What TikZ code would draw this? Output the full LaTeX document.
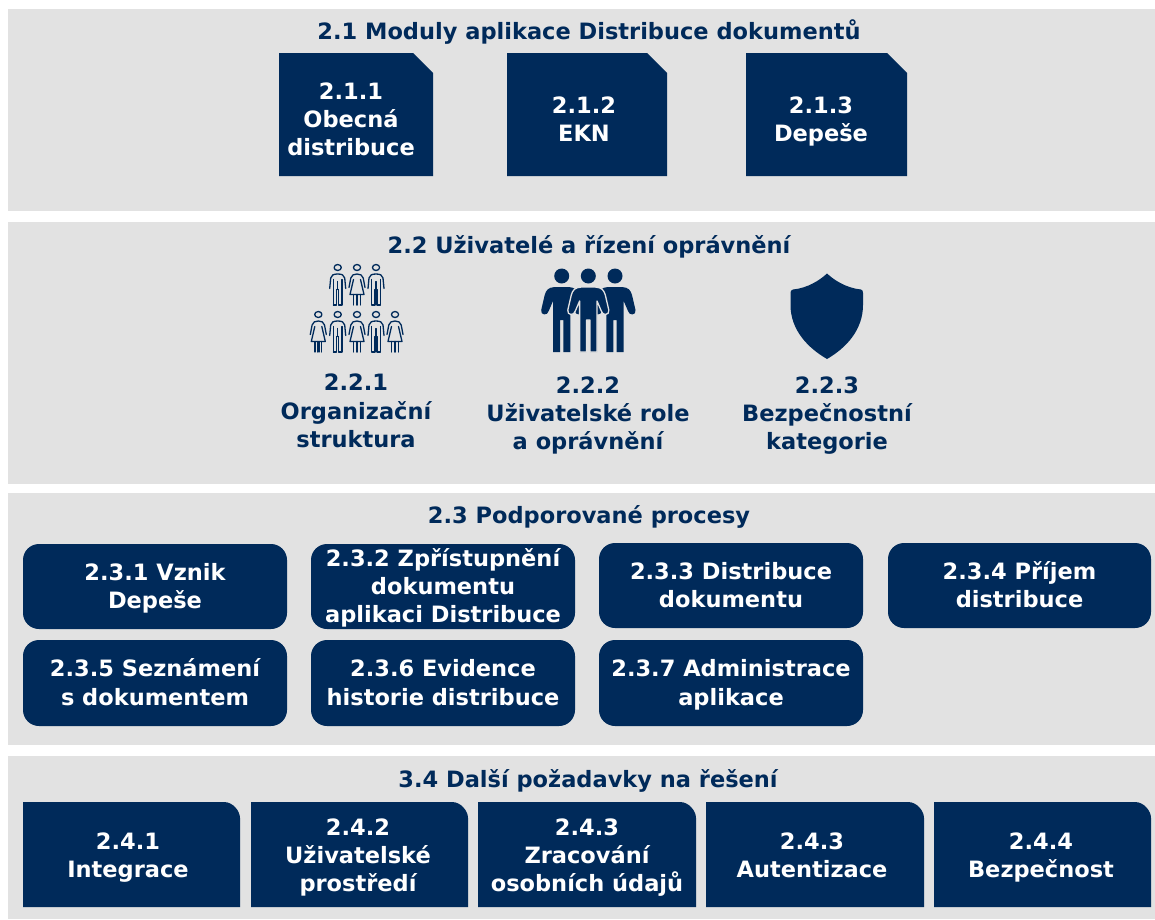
\documentclass[tikz,border=0pt]{standalone}
\usepackage{fontspec}
\setmainfont{DejaVu Sans}
\definecolor{navy}{HTML}{002A5A}
\definecolor{panel}{HTML}{E2E2E2}
\newcommand{\lbl}{\fontsize{22.5}{27.2}\selectfont\bfseries}
\newcommand{\st}{\vrule width 0pt height 21.6pt depth 5.6pt\relax}
\tikzset{
  x=1pt,y=-1pt,
  panelbox/.style={fill=panel,draw=none,anchor=north west,inner sep=0pt,outer sep=0pt},
  heading/.style={text=navy,font=\lbl,inner sep=0pt,align=center},
  whitetext/.style={text=white,font=\lbl,inner sep=0pt,align=center},
  bluetext/.style={text=navy,font=\lbl,inner sep=0pt,align=center},
  procbox/.style={fill=navy,rounded corners=16pt,anchor=north west,inner sep=0pt,outer sep=0pt,text=white,font=\lbl,align=center,minimum width=264pt},
  iconline/.style={draw=navy,line width=1.3pt,fill=none,line cap=round,line join=round},
}
\newcommand{\panelat}[5]{\node[panelbox,minimum width=#4pt,minimum height=#5pt] (#1) at (#2,#3) {};}
% snipped box: name x0 y0 x1 y1 textx text
\newcommand{\snipbox}[7]{%
  \fill[navy] (#2,#3) -- ({#4-20},#3) -- (#4,{#3+20}) -- (#4,#5) -- (#2,#5) -- cycle;
  \node[whitetext] (#1) at (#6,119.5) {#7};}
% box with round top right corner: name x0 x1 textx text
\newcommand{\tabbox}[5]{%
  \fill[navy] (#2,802) -- ({#3-16},802) .. controls ({#3-7},802) and (#3,811) .. (#3,818) -- (#3,907) -- (#2,907) -- cycle;
  \node[whitetext] (#1) at (#4,855.5) {#5};}
% solid person; #3 = outline style
\newcommand{\solidperson}[3]{%
  \begin{scope}[shift={(#1,#2)}]
    \fill[navy,#3,line join=round]
      (-7,11) .. controls (-13.5,11.5) and (-15.5,14) .. (-17,19)
      -- (-20.5,34) .. controls (-21.5,39.5) and (-14,40) .. (-13,35)
      -- (-8.7,25) -- (-8.7,76) -- (-1.7,76) -- (-1.7,44) -- (1.7,44) -- (1.7,76) -- (8.7,76) -- (8.7,25)
      -- (13,35) .. controls (14,40) and (21.5,39.5) .. (20.5,34)
      -- (17,19) .. controls (15.5,14) and (13.5,11.5) .. (7,11) -- cycle;
    \fill[navy] (0,0) circle[radius=7.5];
  \end{scope}}
% outline man, origin = head centre
\newcommand{\outman}[2]{%
  \begin{scope}[shift={(#1,#2)}]
    \draw[iconline] (0,0) ellipse[x radius=3.6,y radius=3];
    \draw[iconline] (-8,21) -- (-7,10.5) .. controls (-6.5,7.5) and (-4,6.5) .. (0,6.5) .. controls (4,6.5) and (6.5,7.5) .. (7,10.5) -- (8,21);
    \draw[iconline] (-4.3,12) -- (-4.3,37.5) (-0.9,22) -- (-0.9,37.5) -- (-4.3,37.5) (4.3,12) -- (4.3,37.5) -- (0.9,37.5) -- (0.9,22) (0,22) -- (0,14);
  \end{scope}}
% outline woman
\newcommand{\outwoman}[2]{%
  \begin{scope}[shift={(#1,#2)}]
    \draw[iconline] (0,0) ellipse[x radius=3.6,y radius=3];
    \draw[iconline] (-8,20) -- (-6.2,10.5) .. controls (-5.5,7.5) and (-3,6.5) .. (0,6.5) .. controls (3,6.5) and (5.5,7.5) .. (6.2,10.5) -- (8,20);
    \draw[iconline] (-3.5,12) -- (-7,27) -- (7,27) -- (3.5,12);
    \draw[iconline] (-3.4,27) -- (-3.4,37.5) (-0.7,27) -- (-0.7,37.5) (0.7,27) -- (0.7,37.5) (3.4,27) -- (3.4,37.5);
  \end{scope}}
\begin{document}
\begin{tikzpicture}
\useasboundingbox (0,0) rectangle (1155,919);
\fill[white] (0,0) rectangle (1155,919);
\panelat{p1}{8}{9}{1147}{202}
\panelat{p2}{8}{222}{1147}{262}
\panelat{p3}{8}{493}{1147}{252}
\panelat{p4}{8}{756}{1147}{163}

\node[heading] (t1) at (589,31) {\st 2.1 Moduly aplikace Distribuce dokumentů};
\node[heading] (t2) at (589,245) {\st 2.2 Uživatelé a řízení oprávnění};
\node[heading] (t3) at (589,515) {\st 2.3 Podporované procesy};
\node[heading] (t4) at (588,779) {\st 3.4 Další požadavky na řešení};

\snipbox{m1}{279}{53}{433}{176}{351}{\st 2.1.1\\\st Obecná\\\st distribuce}
\snipbox{m2}{507}{53}{667}{176}{584}{\st 2.1.2\\\st EKN}
\snipbox{m3}{746}{53}{907}{176}{821}{\st 2.1.3\\\st Depeše}

% icons
\foreach \px/\py in {337.7/267.5,376/267.5,337.7/314.5,376/314.5}{\outman{\px}{\py}}
\foreach \px/\py in {357/267.5,318.3/314.5,357/314.5,395/314.5}{\outwoman{\px}{\py}}
\solidperson{561.7}{276}{draw=none}
\solidperson{615}{276}{draw=none}
\solidperson{588.3}{276}{draw=panel,line width=1.3pt}
\fill[navy] (827,273.5) .. controls (820,280) and (808,288) .. (793,289.5)
  .. controls (791,290) and (790.5,291) .. (790.5,293)
  -- (790.5,305) .. controls (790.5,330) and (808,348) .. (827,359)
  .. controls (846,348) and (863,330) .. (863,305)
  -- (863,293) .. controls (863,291) and (862.5,290) .. (861,289.5)
  .. controls (846,288) and (834,280) .. (827,273.5) -- cycle;

\node[bluetext] (u1) at (356,411) {\st 2.2.1\\\st Organizační\\\st struktura};
\node[bluetext] (u2) at (588,413.5) {\st 2.2.2\\\st Uživatelské role\\\st a oprávnění};
\node[bluetext] (u3) at (827,413.5) {\st 2.2.3\\\st Bezpečnostní\\\st kategorie};

\node[procbox,minimum height=85pt] (c1) at (23,544) {\st 2.3.1 Vznik\\\st Depeše};
\node[procbox,minimum height=85pt] (c2) at (311,544) {\st 2.3.2 Zpřístupnění\\\st dokumentu\\\st aplikaci Distribuce};
\node[procbox,minimum height=85pt] (c3) at (599,543) {\st 2.3.3 Distribuce\\\st dokumentu};
\node[procbox,minimum height=85pt,minimum width=263pt] (c4) at (888,543) {\st 2.3.4 Příjem\\\st distribuce};
\node[procbox,minimum height=86pt] (c5) at (23,640) {\st 2.3.5 Seznámení\\\st s dokumentem};
\node[procbox,minimum height=86pt] (c6) at (311,640) {\st 2.3.6 Evidence\\\st historie distribuce};
\node[procbox,minimum height=86pt] (c7) at (599,640) {\st 2.3.7 Administrace\\\st aplikace};

\tabbox{d1}{23}{240}{128}{\st 2.4.1\\\st Integrace}
\tabbox{d2}{251}{468}{358}{\st 2.4.2\\\st Uživatelské\\\st prostředí}
\tabbox{d3}{478}{696}{587}{\st 2.4.3\\\st Zracování\\\st osobních údajů}
\tabbox{d4}{706}{924}{812}{\st 2.4.3\\\st Autentizace}
\tabbox{d5}{934}{1151}{1041}{\st 2.4.4\\\st Bezpečnost}
\end{tikzpicture}
\end{document}
